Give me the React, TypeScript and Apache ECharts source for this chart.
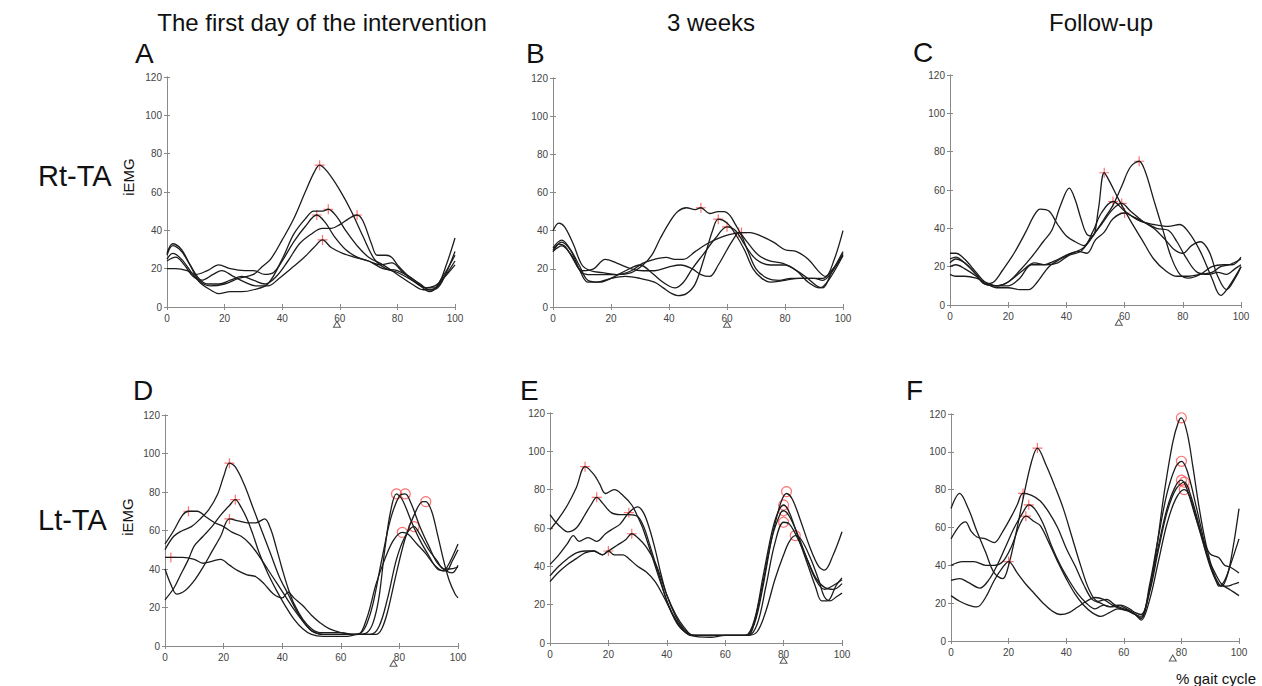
import React, { useEffect, useRef } from 'react';
import * as echarts from 'echarts';

// ---------- DATA ----------
const xTicks = [0, 20, 40, 60, 80, 100];
const yTicks = [0, 20, 40, 60, 80, 100, 120];
const columnTitles = ['The first day of the intervention', '3 weeks', 'Follow-up'];
const rowLabels = ['Rt-TA', 'Lt-TA'];
const panelLetters = ['A', 'B', 'C', 'D', 'E', 'F'];

// Panel A (Rt-TA, first day)
const A1 = [[0,28],[2,33],[5,30],[8,22],[11,14],[15,11],[20,12],[25,15],[30,17],[33,21],[36,25],[40,35],[44,46],[48,60],[51,70],[53,74],[56,70],[60,61],[64,50],[68,37],[72,25],[76,20],[80,18],[85,14],[88,11],[91,8],[94,11],[97,22],[100,36]];
const A2 = [[0,25],[2,28],[5,25],[9,17],[12,12],[15,9],[18,7],[22,8],[26,8],[30,9],[35,12],[40,25],[44,38],[48,46],[51,50],[54,50],[56,51],[59,47],[62,40],[66,32],[70,26],[75,22],[80,17],[85,12],[89,9],[92,9],[95,14],[100,27]];
const A3 = [[0,20],[3,20],[7,19],[10,17],[14,19],[18,22],[22,20],[27,19],[30,19],[34,17],[37,18],[40,24],[44,34],[48,42],[52,48],[55,44],[58,37],[62,30],[66,26],[70,24],[74,22],[78,23],[82,18],[86,13],[90,10],[93,11],[96,15],[100,22]];
const A4 = [[0,27],[2,32],[5,29],[8,22],[11,15],[14,12],[18,12],[22,14],[26,16],[30,14],[34,12],[38,16],[42,24],[46,33],[50,38],[54,41],[57,41],[60,43],[63,46],[66,48],[68,45],[71,33],[73,27],[76,27],[78,26],[80,22],[84,16],[88,12],[91,9],[94,10],[97,18],[100,29]];
const A5 = [[0,24],[3,26],[6,22],[9,16],[12,14],[16,17],[19,19],[23,16],[27,13],[31,11],[35,11],[39,15],[43,20],[47,25],[51,31],[54,35],[57,31],[61,28],[65,26],[70,24],[75,20],[80,19],[85,15],[90,10],[93,10],[96,15],[100,24]];
const A_plus = [[53,74],[56,51],[52,48],[66,48],[54,35]];
const A_circles: number[][] = [];
const A_tri = 59;

// Panel B (Rt-TA, 3 weeks)
const B1 = [[0,30],[2,33],[4,32],[7,25],[10,18],[13,17],[17,17],[22,17],[27,18],[31,22],[34,27],[37,36],[40,44],[43,50],[46,52],[49,51],[51,52],[54,49],[57,50],[59,50],[61,48],[63,43],[65,38],[68,32],[71,27],[75,24],[79,23],[83,20],[87,16],[91,11],[93,10],[96,18],[100,29]];
const B2 = [[0,31],[3,35],[6,30],[9,20],[12,13],[15,13],[20,15],[25,16],[30,15],[35,13],[38,10],[41,7],[43,6],[46,7],[49,12],[52,25],[55,40],[57,46],[60,44],[63,38],[66,30],[69,20],[72,15],[75,13],[80,14],[85,15],[90,15],[93,15],[96,19],[100,27]];
const B3 = [[0,29],[3,34],[6,30],[9,22],[12,14],[16,13],[20,15],[25,19],[30,22],[34,18],[37,14],[40,11],[42,10],[45,13],[48,20],[52,28],[56,36],[60,42],[63,40],[66,33],[70,25],[75,22],[80,22],[84,19],[88,13],[92,10],[95,14],[100,27]];
const B4 = [[0,29],[3,32],[6,28],[10,19],[14,20],[18,25],[22,23],[27,20],[31,19],[35,19],[40,21],[44,22],[48,20],[51,17],[54,16],[57,22],[60,30],[62,35],[64,39],[67,30],[70,20],[74,15],[78,14],[82,15],[86,15],[90,15],[93,14],[96,18],[100,28]];
const B5 = [[0,40],[2,44],[4,42],[7,33],[10,22],[13,19],[17,18],[22,17],[27,19],[31,23],[35,25],[39,26],[42,25],[45,25],[49,29],[53,33],[57,36],[61,38],[65,39],[68,39],[72,37],[76,34],[80,30],[84,29],[88,25],[92,18],[94,16],[97,25],[100,40]];
const B_plus = [[51,52],[57,46],[60,42],[64,39],[65,39]];
const B_circles: number[][] = [];
const B_tri = 60;

// Panel C (Rt-TA, follow-up)
const C1 = [[0,22],[2,24],[5,22],[9,16],[12,11],[15,12],[18,18],[22,27],[26,38],[29,47],[31,50],[34,49],[37,42],[40,36],[43,33],[46,31],[49,38],[52,48],[56,54],[60,49],[65,44],[70,42],[75,41],[79,42],[82,38],[86,28],[90,14],[93,5],[96,10],[100,20]];
const C2 = [[0,20],[2,21],[5,19],[9,15],[12,11],[16,10],[20,12],[24,18],[28,25],[32,33],[35,39],[38,52],[41,61],[43,55],[45,45],[47,37],[49,36],[51,50],[53,69],[55,64],[58,55],[62,44],[66,34],[70,24],[74,18],[78,15],[82,15],[86,16],[90,17],[93,20],[96,21],[100,24]];
const C3 = [[0,27],[2,27],[5,24],[9,17],[12,12],[16,9],[20,9],[24,8],[27,8],[30,12],[34,20],[38,24],[42,27],[46,30],[50,38],[53,45],[56,52],[59,62],[62,72],[65,75],[67,70],[70,55],[73,40],[76,25],[79,16],[82,14],[86,16],[90,20],[94,21],[97,21],[100,25]];
const C4 = [[0,24],[2,25],[5,22],[9,16],[12,11],[16,10],[20,12],[25,18],[29,22],[33,21],[37,22],[41,26],[45,28],[48,34],[52,42],[56,50],[59,53],[62,49],[66,44],[70,40],[74,34],[77,29],[80,27],[83,31],[86,33],[89,28],[92,15],[95,8],[98,14],[100,20]];
const C5 = [[0,16],[2,15],[5,15],[9,14],[12,12],[16,10],[20,10],[24,14],[28,21],[32,21],[36,23],[40,26],[44,28],[47,27],[50,34],[53,38],[56,45],[60,48],[63,46],[67,43],[71,40],[75,39],[78,33],[81,25],[85,17],[89,16],[92,17],[95,16],[98,19],[100,21]];
const C_plus = [[53,69],[65,75],[56,54],[59,53],[60,48]];
const C_circles: number[][] = [];
const C_tri = 58;

// Panel D (Lt-TA, first day)
const D1 = [[0,53],[3,60],[6,68],[8,70],[11,70],[14,67],[17,64],[20,62],[23,59],[26,57],[29,53],[32,47],[35,40],[38,33],[41,26],[44,19],[47,13],[50,8],[54,6],[58,6],[62,6],[66,6],[69,7],[71,12],[73,25],[75,50],[77,70],[79,79],[81,76],[84,65],[87,55],[90,47],[93,40],[96,39],[98,44],[100,50]];
const D2 = [[0,46],[2,46],[6,46],[10,45],[13,43],[16,44],[19,45],[22,42],[25,39],[28,37],[31,36],[34,32],[37,27],[40,25],[42,28],[44,25],[47,21],[50,16],[53,12],[56,9],[60,7],[64,6],[68,6],[72,6],[74,9],[76,18],[79,38],[82,56],[85,68],[88,75],[89,75],[91,70],[93,58],[95,45],[97,34],[99,27],[100,25]];
const D3 = [[0,40],[2,32],[4,27],[7,29],[10,34],[13,41],[16,49],[19,57],[22,66],[25,65],[28,64],[31,64],[34,66],[36,61],[38,51],[40,40],[42,30],[44,22],[47,14],[50,9],[53,7],[56,7],[60,7],[64,6],[66,6],[69,15],[72,32],[75,45],[78,55],[81,59],[83,58],[86,53],[89,48],[92,42],[95,39],[97,43],[100,53]];
const D4 = [[0,24],[3,30],[5,36],[8,45],[10,52],[13,57],[16,62],[19,68],[22,73],[24,76],[26,72],[28,66],[30,58],[32,49],[35,38],[38,29],[41,21],[44,14],[47,9],[50,6],[54,5],[58,5],[62,5],[66,6],[70,6],[73,10],[76,25],[79,45],[82,57],[85,62],[87,58],[90,50],[93,44],[95,40],[97,40],[100,41]];
const D5 = [[0,50],[3,57],[6,60],[9,62],[12,66],[15,71],[18,79],[20,88],[22,95],[24,93],[27,84],[30,72],[33,60],[36,48],[39,36],[42,27],[45,18],[48,11],[51,7],[55,6],[60,6],[64,6],[67,7],[69,12],[71,22],[74,45],[77,66],[80,78],[82,79],[84,74],[87,62],[90,52],[93,43],[96,39],[98,38],[100,42]];
const D_plus = [[2,46],[8,70],[22,95],[24,76],[22,66]];
const D_circles = [[79,79],[82,79],[89,75],[81,59],[85,62]];
const D_tri = 78;

// Panel E (Lt-TA, 3 weeks)
const E1 = [[0,59],[3,65],[6,72],[9,81],[12,92],[15,88],[17,83],[19,78],[22,80],[25,77],[28,72],[30,66],[32,59],[35,45],[38,31],[41,18],[44,9],[47,5],[50,4],[55,4],[60,4],[65,4],[67,4],[70,10],[73,30],[76,55],[79,73],[81,78],[83,75],[86,63],[89,50],[92,40],[94,38],[97,46],[100,58]];
const E2 = [[0,67],[2,63],[4,60],[6,58],[9,60],[12,67],[14,72],[16,76],[18,73],[21,68],[24,67],[27,67],[30,66],[32,61],[34,52],[36,42],[38,32],[40,22],[43,12],[46,6],[49,4],[55,4],[60,4],[65,4],[67,4],[70,12],[73,35],[76,58],[78,68],[80,72],[82,68],[85,55],[88,42],[91,29],[93,22],[95,22],[98,30],[100,34]];
const E3 = [[0,41],[3,46],[6,52],[8,56],[10,53],[13,55],[16,53],[19,57],[22,60],[24,62],[27,68],[30,71],[32,68],[34,60],[36,49],[38,36],[40,25],[43,14],[46,7],[49,4],[55,4],[60,4],[65,4],[68,4],[70,11],[73,32],[76,55],[79,68],[80,69],[82,66],[85,56],[88,44],[91,33],[94,28],[97,30],[100,33]];
const E4 = [[0,35],[3,40],[6,44],[9,47],[12,48],[15,48],[18,46],[20,48],[23,51],[26,54],[28,57],[30,55],[33,50],[36,42],[38,34],[40,25],[43,15],[46,8],[49,4],[55,4],[60,4],[65,4],[68,4],[71,10],[74,30],[77,52],[80,63],[82,62],[85,54],[88,44],[91,34],[94,29],[97,28],[100,31]];
const E5 = [[0,32],[3,37],[6,41],[9,44],[12,47],[15,48],[18,46],[20,48],[22,46],[25,46],[27,44],[30,40],[33,37],[36,32],[39,24],[42,15],[45,8],[48,4],[55,3],[60,4],[65,4],[68,4],[71,6],[74,17],[77,33],[80,46],[82,53],[84,56],[86,54],[89,45],[92,33],[94,24],[96,22],[98,24],[100,26]];
const E_plus = [[12,92],[16,76],[27,68],[28,57],[20,48]];
const E_circles = [[81,79],[80,72],[80,69],[80,63],[84,56]];
const E_tri = 80;

// Panel F (Lt-TA, follow-up)
const F1 = [[0,70],[3,78],[6,70],[9,58],[12,47],[15,36],[18,33],[20,40],[23,60],[25,75],[28,95],[30,102],[33,93],[36,82],[39,70],[42,55],[45,40],[48,27],[51,21],[54,22],[57,19],[60,17],[63,15],[66,12],[68,20],[71,45],[74,78],[77,105],[79,116],[80,118],[82,110],[84,92],[86,72],[88,55],[90,42],[92,33],[94,29],[96,35],[98,50],[100,70]];
const F2 = [[0,54],[3,61],[5,63],[7,58],[9,55],[12,54],[15,52],[18,58],[21,66],[23,72],[25,78],[28,77],[31,74],[34,68],[37,60],[40,49],[43,40],[46,30],[49,22],[52,20],[55,18],[58,19],[61,17],[64,14],[66,12],[69,30],[72,55],[75,78],[78,92],[80,95],[82,90],[85,72],[88,52],[90,40],[92,32],[93,29],[95,32],[97,40],[100,54]];
const F3 = [[0,40],[4,42],[8,42],[12,40],[15,40],[18,42],[21,50],[24,62],[26,66],[29,63],[31,61],[34,52],[37,42],[40,33],[43,25],[46,19],[49,15],[52,13],[55,15],[58,17],[61,16],[64,14],[66,13],[69,28],[72,50],[75,70],[78,82],[80,85],[82,80],[85,65],[88,52],[90,46],[93,44],[95,40],[97,39],[100,36]];
const F4 = [[0,32],[3,33],[6,31],[10,28],[13,32],[16,40],[19,50],[22,60],[25,68],[27,72],[29,70],[32,62],[35,50],[38,40],[41,32],[44,25],[47,20],[50,17],[53,19],[56,18],[59,19],[62,17],[64,15],[66,14],[69,26],[72,48],[75,68],[78,80],[81,84],[83,78],[86,62],[89,44],[92,32],[94,29],[96,29],[98,30],[100,31]];
const F5 = [[0,24],[3,21],[6,19],[9,18],[12,23],[15,32],[18,39],[20,42],[23,36],[26,30],[29,25],[32,20],[35,16],[38,14],[41,15],[44,18],[47,21],[50,23],[53,22],[56,19],[59,17],[62,16],[64,14],[66,11],[69,22],[72,42],[75,62],[78,75],[81,80],[83,76],[86,60],[89,45],[92,35],[94,30],[97,27],[100,24]];
const F_plus = [[30,102],[25,78],[27,72],[26,66],[20,42]];
const F_circles = [[80,118],[80,95],[80,85],[81,84],[81,80]];
const F_tri = 77;

const panelCurves = [[A1,A2,A3,A4,A5],[B1,B2,B3,B4,B5],[C1,C2,C3,C4,C5],[D1,D2,D3,D4,D5],[E1,E2,E3,E4,E5],[F1,F2,F3,F4,F5]];
const panelPlus = [A_plus, B_plus, C_plus, D_plus, E_plus, F_plus];
const panelCircles = [A_circles, B_circles, C_circles, D_circles, E_circles, F_circles];
const panelTri = [A_tri, B_tri, C_tri, D_tri, E_tri, F_tri];

// ---------- LAYOUT ----------
const grids = [
  { left: 167, top: 77, width: 288, height: 230 },
  { left: 553, top: 78, width: 290, height: 229 },
  { left: 950, top: 75, width: 291, height: 230 },
  { left: 165, top: 415, width: 293, height: 231 },
  { left: 550, top: 413, width: 292, height: 230 },
  { left: 951, top: 414, width: 288, height: 227 },
];
const FONT = 'Liberation Sans, Arial, Helvetica, sans-serif';
const plusPath = 'path://M0,5L10,5M5,0L5,10';

export default function App() {
  const ref = useRef<HTMLDivElement>(null);
  useEffect(() => {
    if (!ref.current) return;
    const chart = echarts.init(ref.current, undefined, { renderer: 'svg' });
    const axisLineStyle = { color: '#8a8a8a', width: 1 };
    const xAxis: any[] = [];
    const yAxis: any[] = [];
    const series: any[] = [];
    grids.forEach((g, i) => {
      const base = { type: 'value', gridIndex: i, min: xTicks[0], max: xTicks[xTicks.length - 1], interval: 20, splitLine: { show: false } };
      xAxis.push({ ...base, position: 'bottom', axisLine: { show: true, lineStyle: axisLineStyle }, axisTick: { show: true, inside: true, length: 3, lineStyle: axisLineStyle }, axisLabel: { show: true, fontSize: 10, color: '#444', margin: 6, fontFamily: FONT } });
      xAxis.push({ ...base, position: 'top', axisLine: { show: true, lineStyle: axisLineStyle }, axisTick: { show: true, inside: true, length: 3, lineStyle: axisLineStyle }, axisLabel: { show: false } });
      const ybase = { type: 'value', gridIndex: i, min: yTicks[0], max: yTicks[yTicks.length - 1], interval: 20, splitLine: { show: false } };
      yAxis.push({ ...ybase, position: 'left', axisLine: { show: true, lineStyle: axisLineStyle }, axisTick: { show: true, inside: true, length: 3, lineStyle: axisLineStyle }, axisLabel: { show: true, fontSize: 10, color: '#444', margin: 5, fontFamily: FONT } });
      yAxis.push({ ...ybase, position: 'right', axisLine: { show: true, lineStyle: axisLineStyle }, axisTick: { show: true, inside: true, length: 3, lineStyle: axisLineStyle }, axisLabel: { show: false } });
      panelCurves[i].forEach((c) => {
        series.push({ type: 'line', xAxisIndex: 2 * i, yAxisIndex: 2 * i, data: c, smooth: 0.35, showSymbol: false, silent: true, lineStyle: { color: '#1c1c1c', width: 1.3 } });
      });
      series.push({ type: 'scatter', xAxisIndex: 2 * i, yAxisIndex: 2 * i, data: panelPlus[i], symbol: plusPath, symbolSize: 10, silent: true, itemStyle: { color: 'rgba(0,0,0,0)', borderColor: '#ff4d4d', borderWidth: 1.2 } });
      if (panelCircles[i].length) {
        series.push({ type: 'scatter', xAxisIndex: 2 * i, yAxisIndex: 2 * i, data: panelCircles[i], symbol: 'circle', symbolSize: 10, silent: true, itemStyle: { color: 'rgba(0,0,0,0)', borderColor: '#ff4d4d', borderWidth: 1.2 } });
      }
      series.push({ type: 'scatter', xAxisIndex: 2 * i, yAxisIndex: 2 * i, data: [[panelTri[i], -9]], symbol: 'triangle', symbolSize: [7, 6], clip: false, silent: true, itemStyle: { color: '#fff', borderColor: '#333', borderWidth: 1 } });
    });

    const txt = (x: number, y: number, text: string, size: number, align = 'left', extra: any = {}) => ({
      type: 'text', x, y, silent: true, ...extra,
      style: { text, font: `${size}px ${FONT}`, fill: '#111', align, verticalAlign: 'middle' },
    });
    const titleX = [322, 711, 1101];
    const letterPos = [[135, 53], [526, 53], [913, 52], [133, 390], [520, 390], [906, 390]];
    const graphic: any[] = [];
    columnTitles.forEach((t, i) => graphic.push(txt(titleX[i], 22, t, 24, 'center')));
    panelLetters.forEach((l, i) => graphic.push(txt(letterPos[i][0], letterPos[i][1], l, 28)));
    graphic.push(txt(38, 176, rowLabels[0], 29));
    graphic.push(txt(38, 520, rowLabels[1], 29));
    graphic.push(txt(128, 177, 'iEMG', 15, 'center', { rotation: Math.PI / 2 }));
    graphic.push(txt(127, 517, 'iEMG', 15, 'center', { rotation: Math.PI / 2 }));
    graphic.push(txt(1176, 678, '% gait cycle', 15));

    chart.setOption({
      animation: false,
      backgroundColor: '#fff',
      grid: grids.map((g) => ({ ...g, containLabel: false })),
      xAxis,
      yAxis,
      series,
      graphic,
    });
    return () => chart.dispose();
  }, []);
  return <div ref={ref} style={{ position: 'fixed', left: 0, top: 0, width: 1262, height: 686, background: '#fff' }} />;
}
